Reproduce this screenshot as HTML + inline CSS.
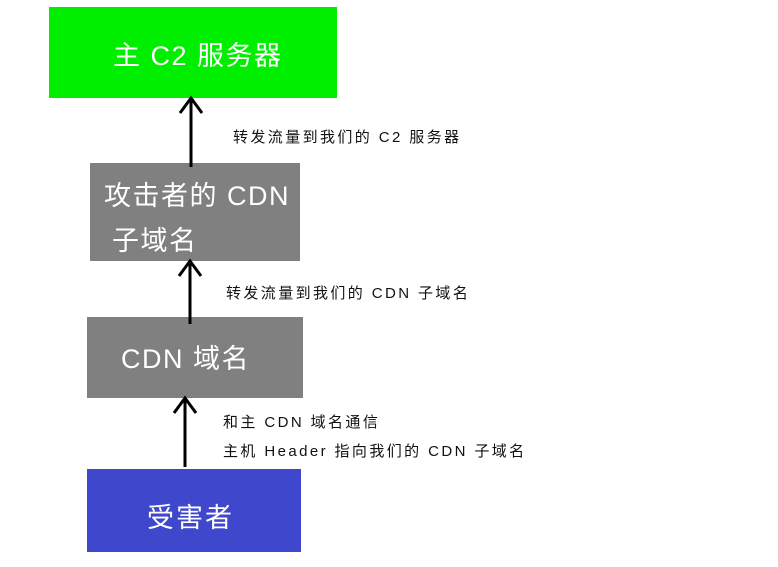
<!DOCTYPE html>
<html><head><meta charset="utf-8"><style>
body{margin:0;width:778px;height:567px;background:#fff;position:relative;overflow:hidden;font-family:"Liberation Sans","Noto Sans CJK SC",sans-serif}
.b{position:absolute;color:#fff;font-size:27px;letter-spacing:1.5px}
.l{position:absolute;font-size:15px;color:#111;white-space:nowrap;letter-spacing:2.4px}
</style></head><body>
<div class="b" style="left:49px;top:7px;width:288px;height:91px;background:#00ee00"><span style="position:absolute;left:64px;top:34px;line-height:30px;white-space:nowrap">主 C2 服务器</span></div>
<div class="b" style="left:90px;top:163px;width:210px;height:98px;background:#808080;line-height:44px">
<div style="position:absolute;left:14px;top:11px;white-space:nowrap">攻击者的 CDN</div>
<div style="position:absolute;left:22px;top:56px;white-space:nowrap">子域名</div></div>
<div class="b" style="left:87px;top:317px;width:216px;height:81px;background:#808080"><span style="position:absolute;left:34px;top:27px;line-height:30px;white-space:nowrap">CDN 域名</span></div>
<div class="b" style="left:87px;top:469px;width:214px;height:83px;background:#3f48cc"><span style="position:absolute;left:60px;top:34px;line-height:30px;white-space:nowrap;letter-spacing:2px">受害者</span></div>
<svg style="position:absolute;left:0;top:0" width="778" height="567">
<g stroke="#000" stroke-width="3" fill="none">
<line x1="191" y1="98" x2="191" y2="167"/><polyline points="180,113 191,98 202,113"/>
<line x1="190" y1="261" x2="190" y2="324"/><polyline points="179,276 190,261 201,276"/>
<line x1="185" y1="398" x2="185" y2="467"/><polyline points="174,413 185,398 196,413"/>
</g></svg>
<div class="l" style="left:233px;top:126px">转发流量到我们的 C2 服务器</div>
<div class="l" style="left:226px;top:282px">转发流量到我们的 CDN 子域名</div>
<div class="l" style="left:223px;top:411px">和主 CDN 域名通信</div>
<div class="l" style="left:223px;top:440px">主机 Header 指向我们的 CDN 子域名</div>
</body></html>
